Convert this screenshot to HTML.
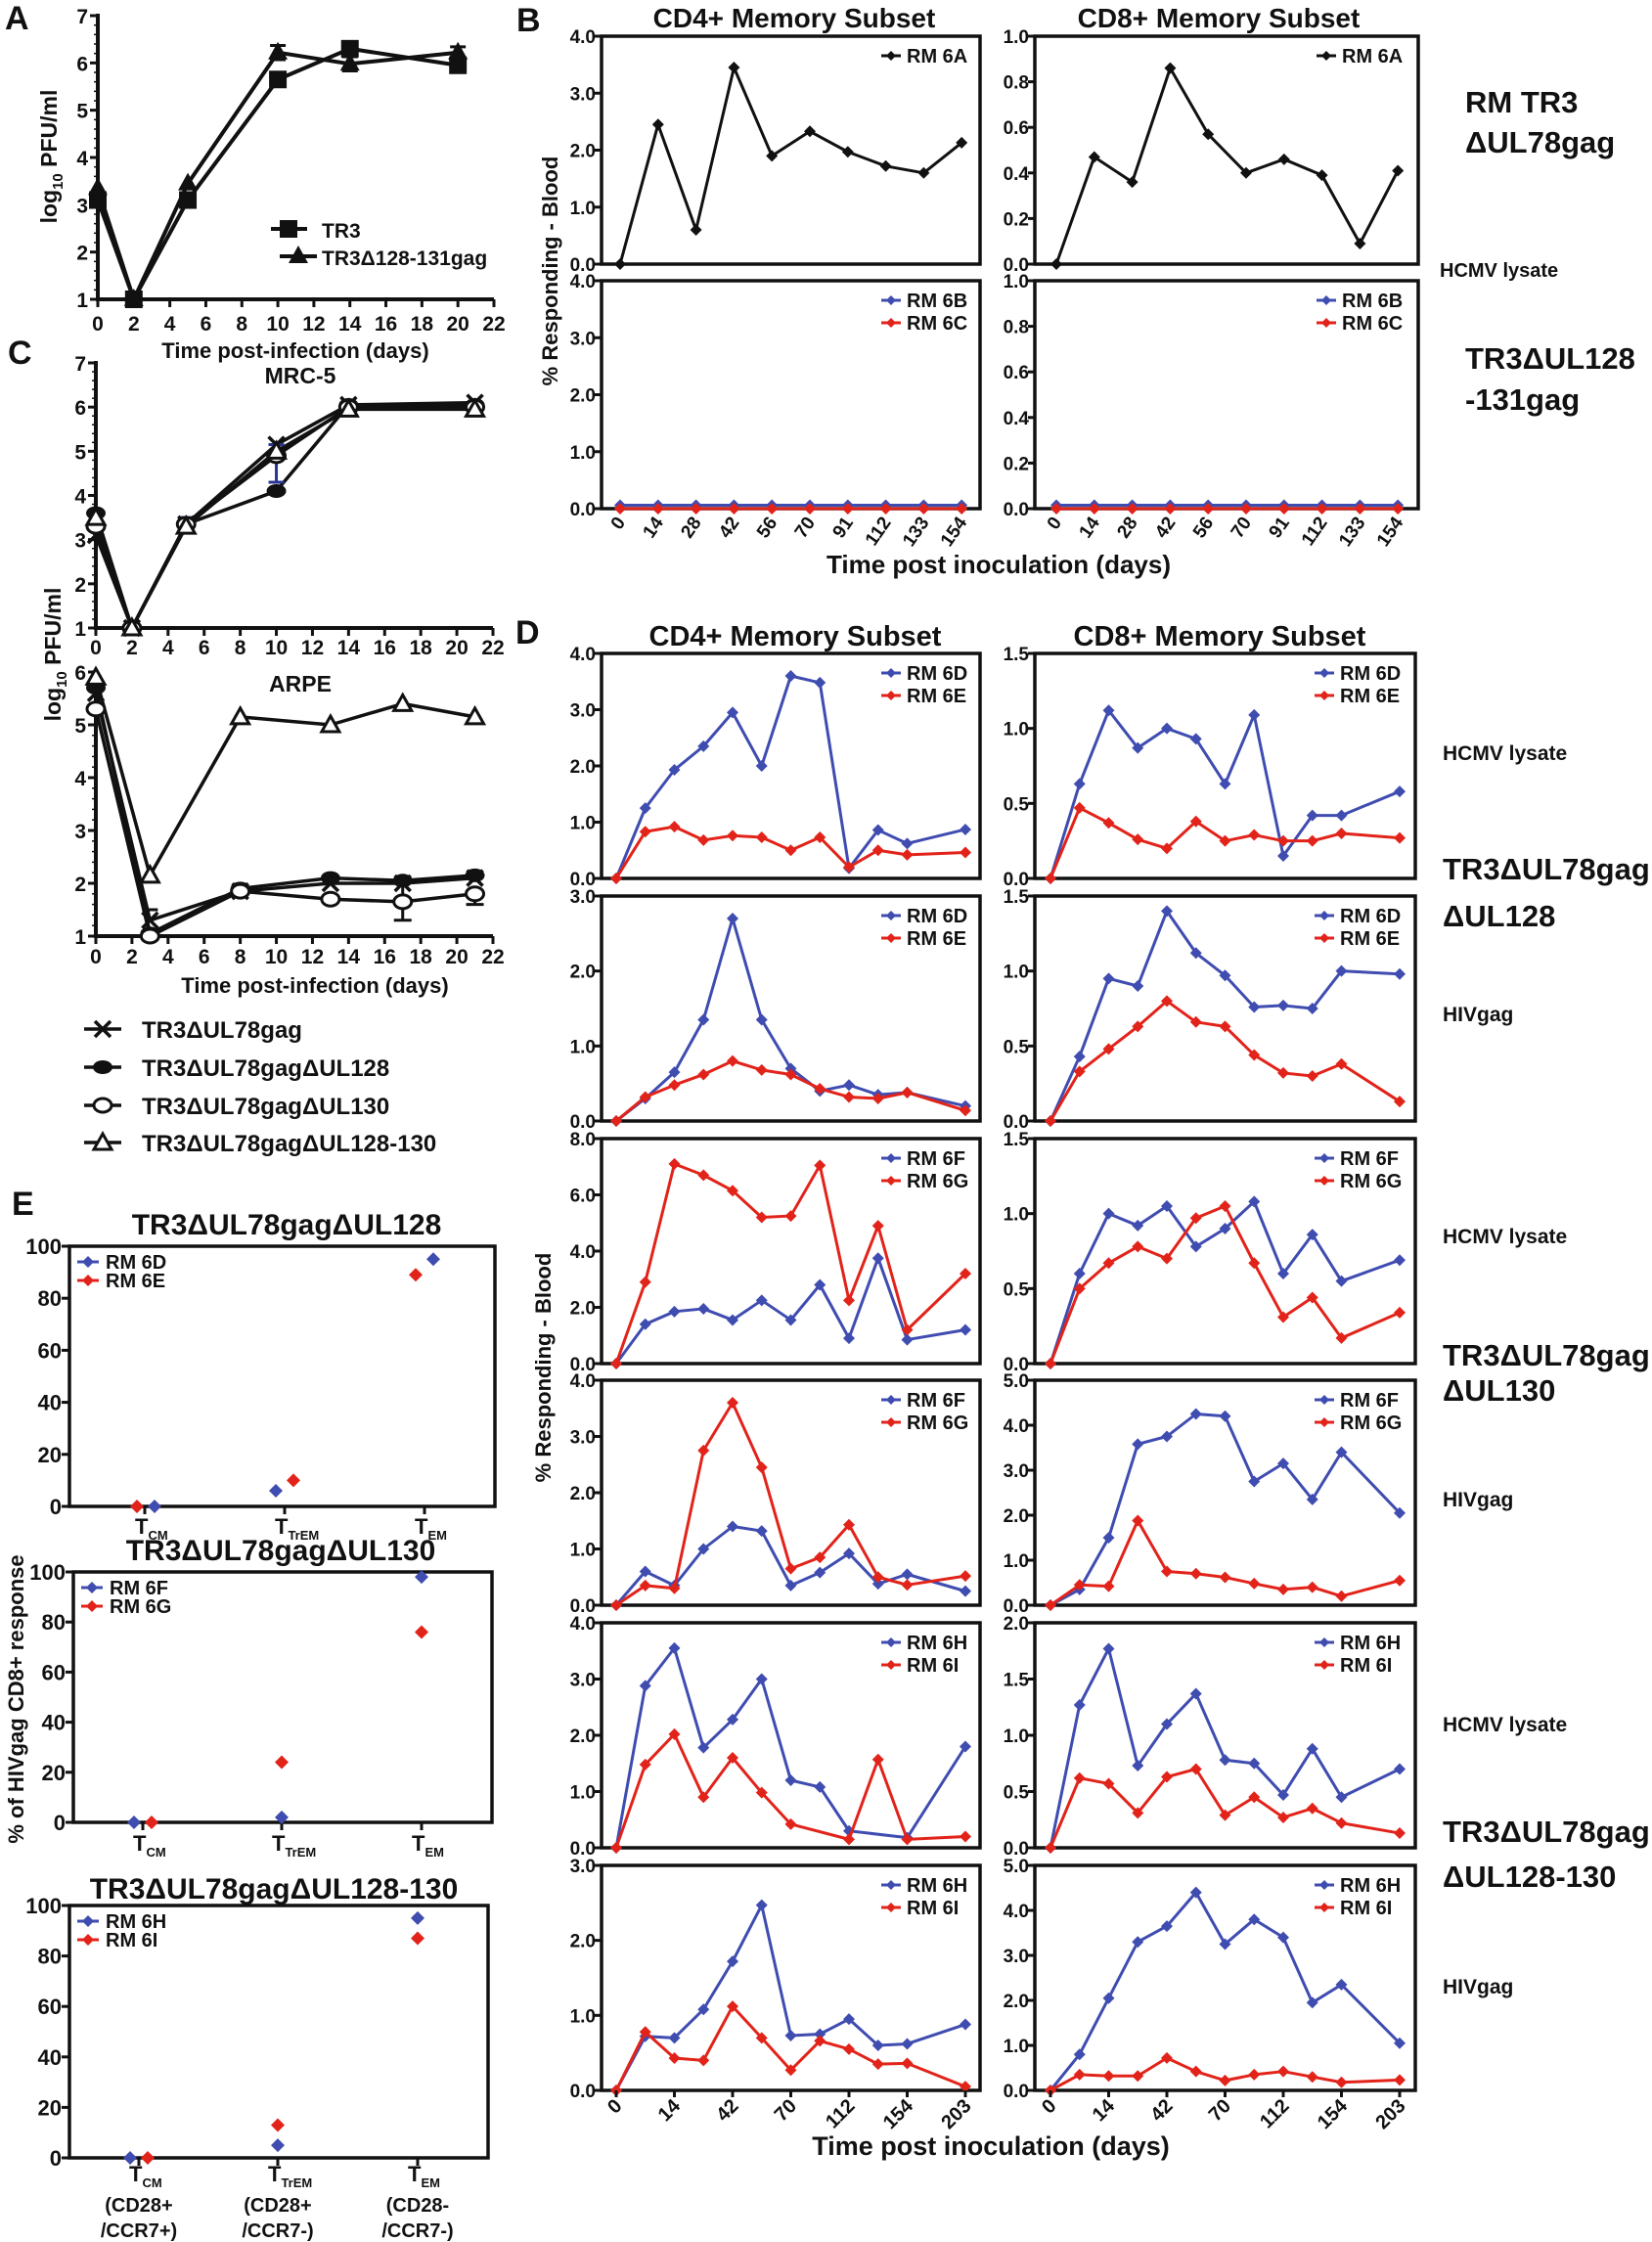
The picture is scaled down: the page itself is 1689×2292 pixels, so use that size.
<!DOCTYPE html>
<html><head><meta charset="utf-8">
<style>
html,body{margin:0;padding:0;background:#fff;}
svg{display:block;}
text{font-family:"Liberation Sans",Arial,sans-serif;font-weight:bold;fill:#111;}
</style></head>
<body>
<svg id="s" xmlns="http://www.w3.org/2000/svg" width="1689" height="2292" viewBox="0 0 1689 2292"></svg>
<script>
const B='#3f4cb0',R='#e2231a';
let o='';
function T(x,y,s,sz,anc,extra){o+=`<text x="${x}" y="${y}" font-size="${sz}" text-anchor="${anc||'start'}" ${extra||''}>${s}</text>`;}
function L(x1,y1,x2,y2,w,c){o+=`<line x1="${x1}" y1="${y1}" x2="${x2}" y2="${y2}" stroke="${c||'#111'}" stroke-width="${w||3}"/>`;}
function dia(x,y,c,r){r=r||6;o+=`<path d="M${x} ${y-r}L${x+r} ${y}L${x} ${y+r}L${x-r} ${y}Z" fill="${c}"/>`;}
function poly(pts,c,w){o+=`<polyline points="${pts.map(p=>p.join(',')).join(' ')}" fill="none" stroke="${c}" stroke-width="${w||3}" stroke-linejoin="round"/>`;}

// ---------- panel labels
T(5,30,'A',34);T(528,32,'B',34);T(8,372,'C',34);T(527,658,'D',34);T(12,1242,'E',34);

// ---------- Panel A
(function(){
 const ax=x=>100+x*405/22, ay=v=>306-(v-1)*290/6;
 L(100,14,100,308,4);L(98,306,505,306,4);
 for(let v=1;v<=7;v++){L(92,ay(v),100,ay(v),3);T(90,ay(v)+8,v,21,'end');}
 for(let v=1;v<7;v+=0.2){L(96,ay(v),100,ay(v),1.5);}
 for(let x=0;x<=22;x+=2){L(ax(x),306,ax(x),314,3);T(ax(x),338,x,21,'middle');}
 T(302,366,'Time post-infection (days)',22,'middle');
 o+=`<text x="58" y="160" font-size="23" text-anchor="middle" transform="rotate(-90 58 160)">log<tspan font-size="15" dy="6">10</tspan><tspan dy="-6"> PFU/ml</tspan></text>`;
 const sq=[[0,3.1],[2,1],[5,3.1],[10,5.65],[14,6.3],[20,5.95]];
 const tr=[[0,3.35],[2,1],[5,3.45],[10,6.22],[14,5.98],[20,6.22]];
 poly(sq.map(p=>[ax(p[0]),ay(p[1])]),'#111',4);poly(tr.map(p=>[ax(p[0]),ay(p[1])]),'#111',4);
 [[10,6.22,0.15],[14,6.3,0.15],[20,6.22,0.12],[14,5.98,0.15],[20,5.95,0.1]].forEach(e=>{L(ax(e[0]),ay(e[1]-e[2]),ax(e[0]),ay(e[1]+e[2]),3);L(ax(e[0])-8,ay(e[1]+e[2]),ax(e[0])+8,ay(e[1]+e[2]),3);L(ax(e[0])-8,ay(e[1]-e[2]),ax(e[0])+8,ay(e[1]-e[2]),3);});
 sq.forEach(p=>o+=`<rect x="${ax(p[0])-9}" y="${ay(p[1])-9}" width="18" height="18" fill="#111"/>`);
 tr.forEach(p=>o+=`<path d="M${ax(p[0])} ${ay(p[1])-11}L${ax(p[0])+10} ${ay(p[1])+7}L${ax(p[0])-10} ${ay(p[1])+7}Z" fill="#111"/>`);
 L(277,234,314,234,4);o+=`<rect x="286" y="225" width="18" height="18" fill="#111"/>`;T(329,243,'TR3',21);
 L(286,262,324,262,4);o+=`<path d="M305 251L315 269L295 269Z" fill="#111"/>`;T(329,271,'TR3Δ128-131gag',21);
})();

// ---------- Panel C
(function(){
 const cx=x=>98+x*406/22;
 function axes(top,bot,vmin,vmax,labY,title,titleY){
  const yy=v=>bot-(v-vmin)*(bot-top)/(vmax-vmin);
  L(98,top-2,98,bot+2,4);L(96,bot,504,bot,4);
  for(let v=vmin;v<=vmax;v++){L(90,yy(v),98,yy(v),3);T(88,yy(v)+8,v,21,'end');}
  for(let v=vmin;v<vmax;v+=0.2){L(94,yy(v),98,yy(v),1.5);}
  for(let x=0;x<=22;x+=2){L(cx(x),bot,cx(x),bot+8,3);T(cx(x),labY,x,21,'middle');}
  T(307,titleY,title,23,'middle');
  return yy;
 }
 const my=axes(371,642,1,7,669,'MRC-5',392);
 const ay=axes(687,957,1,6,985,'ARPE',707);
 T(322,1015,'Time post-infection (days)',22,'middle');
 o+=`<text x="62" y="669" font-size="23" text-anchor="middle" transform="rotate(-90 62 669)">log<tspan font-size="15" dy="6">10</tspan><tspan dy="-6"> PFU/ml</tspan></text>`;
 function mark(t,x,y){
  if(t==0){L(x-8,y-8,x+8,y+8,3.5);L(x-8,y+8,x+8,y-8,3.5);}
  else if(t==1){o+=`<ellipse cx="${x}" cy="${y}" rx="10" ry="7" fill="#111"/>`;}
  else if(t==2){o+=`<ellipse cx="${x}" cy="${y}" rx="9" ry="7" fill="#fff" stroke="#111" stroke-width="3"/>`;}
  else {o+=`<path d="M${x} ${y-9}L${x+9} ${y+7}L${x-9} ${y+7}Z" fill="#fff" stroke="#111" stroke-width="3"/>`;}
 }
 const M=[[[0,3.1],[2,1],[5,3.35],[10,5.15],[14,6.05],[21,6.1]],[[0,3.6],[2,1],[5,3.35],[10,4.1],[14,6.05],[21,6.05]],[[0,3.3],[2,1],[5,3.35],[10,4.9],[14,6.0],[21,6.0]],[[0,3.5],[2,1],[5,3.3],[10,5.0],[14,5.95],[21,5.95]]];
 const A=[[[0,5.6],[3,1.3],[8,1.85],[13,2.0],[17,2.0],[21,2.1]],[[0,5.7],[3,1.05],[8,1.9],[13,2.1],[17,2.05],[21,2.15]],[[0,5.3],[3,1.0],[8,1.85],[13,1.7],[17,1.65],[21,1.8]],[[0,5.9],[3,2.15],[8,5.15],[13,5.0],[17,5.4],[21,5.15]]];
 M.forEach(s=>poly(s.map(p=>[cx(p[0]),my(p[1])]),'#111',3.5));
 A.forEach(s=>poly(s.map(p=>[cx(p[0]),ay(p[1])]),'#111',3.5));
 // error bars
 L(cx(10),my(5.15),cx(10),my(4.3),3,'#2a3590');L(cx(10)-8,my(4.3),cx(10)+8,my(4.3),3,'#2a3590');L(cx(10)-8,my(5.15),cx(10)+8,my(5.15),3,'#2a3590');
 L(cx(5)-8,my(3.5),cx(5)+8,my(3.5),3,'#2a3590');L(cx(5)-8,my(3.15),cx(5)+8,my(3.15),3,'#2a3590');
 L(cx(17),ay(2.0),cx(17),ay(1.3),3);L(cx(17)-9,ay(1.3),cx(17)+9,ay(1.3),3);
 L(cx(21),ay(1.8),cx(21),ay(1.6),3);L(cx(21)-9,ay(1.6),cx(21)+9,ay(1.6),3);
 L(cx(3)-8,ay(1.5),cx(3)+8,ay(1.5),3);
 M.forEach((s,i)=>s.forEach(p=>mark(i,cx(p[0]),my(p[1]))));
 A.forEach((s,i)=>s.forEach(p=>mark(i,cx(p[0]),ay(p[1]))));
 const ln=['TR3ΔUL78gag','TR3ΔUL78gagΔUL128','TR3ΔUL78gagΔUL130','TR3ΔUL78gagΔUL128-130'];
 [1052,1091,1130,1168].forEach((y,i)=>{L(86,y,124,y,3.5);mark(i,105,y);T(145,y+9,ln[i],24);});
})();

// ---------- generic box plot
function boxPlot(Lx,Rx,Tp,Bt,ymax,step,x0,dx,series,leg,legX){
 o+=`<rect x="${Lx}" y="${Tp}" width="${Rx-Lx}" height="${Bt-Tp}" fill="none" stroke="#111" stroke-width="3.5"/>`;
 const yy=v=>Bt-v/ymax*(Bt-Tp);
 for(let v=0;v<=ymax+1e-9;v+=step){L(Lx-7,yy(v),Lx,yy(v),3);T(Lx-6,yy(v)+7,v.toFixed(1),19,'end');}
 series.forEach(s=>{const pts=s.d.map(p=>[x0+p[0]*dx,yy(p[1])]);poly(pts,s.c,3);pts.forEach(p=>dia(p[0],p[1],s.c,6));});
 leg.forEach((l,i)=>{const y=Tp+27+i*23;L(legX-26,y-7,legX-6,y-7,3,l.c);dia(legX-16,y-7,l.c,5);T(legX,y,l.t,20);});
}
const idx=a=>a.map((v,i)=>[i<11?i:12,v]);

// ---------- Panel B
T(812,28,'CD4+ Memory Subset',28,'middle');T(1246,28,'CD8+ Memory Subset',28,'middle');
boxPlot(615,1002,37,270,4,1,634,38.8,[{c:'#111',d:[0,2.45,0.6,3.45,1.9,2.33,1.97,1.72,1.6,2.13].map((v,i)=>[i,v])}],[{c:'#111',t:'RM 6A'}],927);
boxPlot(1058,1450,37,270,1,0.2,1080,38.8,[{c:'#111',d:[0,0.47,0.36,0.86,0.57,0.40,0.46,0.39,0.09,0.41].map((v,i)=>[i,v])}],[{c:'#111',t:'RM 6A'}],1372);
const z10=[0,1,2,3,4,5,6,7,8,9];
boxPlot(615,1002,287,520,4,1,634,38.8,[{c:B,d:z10.map(i=>[i,0.06])},{c:R,d:z10.map(i=>[i,0])}],[{c:B,t:'RM 6B'},{c:R,t:'RM 6C'}],927);
boxPlot(1058,1450,287,520,1,0.2,1080,38.8,[{c:B,d:z10.map(i=>[i,0.015])},{c:R,d:z10.map(i=>[i,0])}],[{c:B,t:'RM 6B'},{c:R,t:'RM 6C'}],1372);
['0','14','28','42','56','70','91','112','133','154'].forEach((s,i)=>{[634,1080].forEach(x0=>{const x=x0+i*38.8;T(x+6,534,s,19,'end',`transform="rotate(-55 ${x+6} 534)"`);});});
T(1021,586,'Time post inoculation (days)',26,'middle');
T(570,277,'% Responding - Blood',22,'middle','transform="rotate(-90 570 277)"');
T(1498,115,'RM TR3',31);T(1498,156,'ΔUL78gag',31);T(1472,283,'HCMV lysate',20);
T(1498,377,'TR3ΔUL128',31);T(1498,419,'-131gag',31);

// ---------- Panel D
T(813,660,'CD4+ Memory Subset',29,'middle');T(1247,660,'CD8+ Memory Subset',29,'middle');
const tops=[668,916,1164,1411,1659,1907];
const cd4=[
 [4,1,'6D','6E',idx([0,1.25,1.93,2.35,2.95,2.0,3.6,3.48,0.18,0.86,0.62,0.87]),idx([0,0.83,0.92,0.68,0.76,0.73,0.5,0.73,0.2,0.5,0.42,0.46])],
 [3,1,'6D','6E',idx([0,0.3,0.65,1.35,2.7,1.35,0.7,0.4,0.48,0.35,0.38,0.2]),idx([0,0.32,0.48,0.62,0.8,0.68,0.62,0.43,0.32,0.3,0.38,0.14])],
 [8,2,'6F','6G',idx([0,1.4,1.85,1.95,1.55,2.25,1.55,2.8,0.9,3.75,0.85,1.2]),idx([0,2.9,7.1,6.7,6.15,5.2,5.25,7.05,2.25,4.9,1.2,3.2])],
 [4,1,'6F','6G',idx([0,0.6,0.35,1.0,1.4,1.32,0.35,0.58,0.92,0.38,0.55,0.25]),idx([0,0.35,0.3,2.75,3.6,2.45,0.65,0.85,1.43,0.5,0.36,0.52])],
 [4,1,'6H','6I',[[0,0],[1,2.88],[2,3.55],[3,1.78],[4,2.28],[5,3.0],[6,1.2],[7,1.08],[8,0.3],[10,0.18],[12,1.8]],[[0,0],[1,1.48],[2,2.02],[3,0.9],[4,1.6],[5,0.98],[6,0.42],[8,0.15],[9,1.57],[10,0.15],[12,0.2]]],
 [3,1,'6H','6I',idx([0,0.72,0.7,1.08,1.72,2.47,0.73,0.75,0.95,0.6,0.62,0.88]),idx([0,0.78,0.43,0.4,1.12,0.7,0.27,0.66,0.55,0.35,0.36,0.05])]];
const cd8=[
 [1.5,0.5,idx([0,0.63,1.12,0.87,1.0,0.93,0.63,1.09,0.15,0.42,0.42,0.58]),idx([0,0.47,0.37,0.26,0.2,0.38,0.25,0.29,0.25,0.25,0.3,0.27])],
 [1.5,0.5,idx([0,0.43,0.95,0.9,1.4,1.12,0.97,0.76,0.77,0.75,1.0,0.98]),idx([0,0.33,0.48,0.63,0.8,0.66,0.63,0.44,0.32,0.3,0.38,0.13])],
 [1.5,0.5,idx([0,0.6,1.0,0.92,1.05,0.78,0.9,1.08,0.6,0.86,0.55,0.69]),idx([0,0.5,0.67,0.78,0.7,0.97,1.05,0.67,0.31,0.44,0.17,0.34])],
 [5,1,idx([0,0.35,1.5,3.58,3.75,4.25,4.2,2.75,3.15,2.35,3.4,2.05]),idx([0,0.45,0.42,1.88,0.75,0.7,0.62,0.48,0.35,0.4,0.2,0.55])],
 [2,0.5,idx([0,1.27,1.77,0.73,1.1,1.37,0.78,0.75,0.47,0.88,0.45,0.7]),idx([0,0.62,0.57,0.31,0.63,0.7,0.29,0.45,0.27,0.35,0.22,0.13])],
 [5,1,idx([0,0.8,2.05,3.3,3.65,4.4,3.25,3.8,3.4,1.95,2.35,1.05]),idx([0,0.35,0.32,0.32,0.72,0.42,0.22,0.35,0.42,0.3,0.18,0.23])]];
tops.forEach((t,r)=>{
 const a=cd4[r],b=cd8[r];
 boxPlot(615,1002,t,t+230,a[0],a[1],630,29.75,[{c:B,d:a[4]},{c:R,d:a[5]}],[{c:B,t:'RM '+a[2]},{c:R,t:'RM '+a[3]}],927);
 boxPlot(1058,1447,t,t+230,b[0],b[1],1074,29.75,[{c:B,d:b[2]},{c:R,d:b[3]}],[{c:B,t:'RM '+a[2]},{c:R,t:'RM '+a[3]}],1370);
});
['0','14','42','70','112','154','203'].forEach((s,i)=>{[630,1074].forEach(x0=>{const x=x0+i*2*29.75;L(x,2137,x,2144,3);T(x+7,2154,s,20,'end',`transform="rotate(-45 ${x+7} 2154)"`);});});
T(1013,2203,'Time post inoculation (days)',27,'middle');
T(563,1398,'% Responding - Blood',22,'middle','transform="rotate(-90 563 1398)"');
[[777,'HCMV lysate'],[1044,'HIVgag'],[1271,'HCMV lysate'],[1540,'HIVgag'],[1770,'HCMV lysate'],[2038,'HIVgag']].forEach(p=>T(1475,p[0],p[1],21));
[[899,'TR3ΔUL78gag'],[947,'ΔUL128'],[1396,'TR3ΔUL78gag'],[1432,'ΔUL130'],[1883,'TR3ΔUL78gag'],[1929,'ΔUL128-130']].forEach(p=>T(1475,p[0],p[1],31));

// ---------- Panel E
function ePlot(Lx,Rx,Tp,Bt,title,titleX,titleY,ticks,pts,leg,lblY){
 T(titleX,titleY,title,30,'middle');
 o+=`<rect x="${Lx}" y="${Tp}" width="${Rx-Lx}" height="${Bt-Tp}" fill="none" stroke="#111" stroke-width="3.5"/>`;
 const yy=v=>Bt-v/100*(Bt-Tp);
 for(let v=0;v<=100;v+=20){L(Lx-8,yy(v),Lx,yy(v),3);T(Lx-8,yy(v)+8,v,22,'end');}
 const sub=['CM','TrEM','EM'];
 ticks.forEach((x,i)=>{L(x,Bt,x,Bt+8,3);o+=`<text x="${x-10}" y="${lblY}" font-size="22">T<tspan font-size="13" dy="6">${sub[i]}</tspan></text>`;});
 pts.forEach(p=>dia(p[0],yy(p[1]),p[2],7));
 leg.forEach((l,i)=>{const y=Tp+22+i*19;L(Lx+8,y-6,Lx+30,y-6,3,l.c);dia(Lx+19,y-6,l.c,6);T(Lx+37,y+1,l.t,20);});
}
ePlot(71,506,1274,1540,'TR3ΔUL78gagΔUL128',293,1262,[148,291,434],[[140,0,R],[158,0,B],[282,6,B],[300,10,R],[425,89,R],[443,95,B]],[{c:B,t:'RM 6D'},{c:R,t:'RM 6E'}],1568);
ePlot(75,503,1607,1863,'TR3ΔUL78gagΔUL130',287,1595,[146,288,431],[[137,0,B],[155,0,R],[288,2,B],[288,24,R],[431,98,B],[431,76,R]],[{c:B,t:'RM 6F'},{c:R,t:'RM 6G'}],1892);
ePlot(71,499,1948,2206,'TR3ΔUL78gagΔUL128-130',280,1941,[142,284,427],[[133,0,B],[151,0,R],[284,5,B],[284,13,R],[427,95,B],[427,87,R]],[{c:B,t:'RM 6H'},{c:R,t:'RM 6I'}],2230);
[[142,'(CD28+','/CCR7+)'],[284,'(CD28+','/CCR7-)'],[427,'(CD28-','/CCR7-)']].forEach(p=>{T(p[0],2261,p[1],20,'middle');T(p[0],2287,p[2],20,'middle');});
T(24,1737,'% of HIVgag CD8+ response',22,'middle','transform="rotate(-90 24 1737)"');

document.getElementById('s').innerHTML=o;
</script>
</body></html>
